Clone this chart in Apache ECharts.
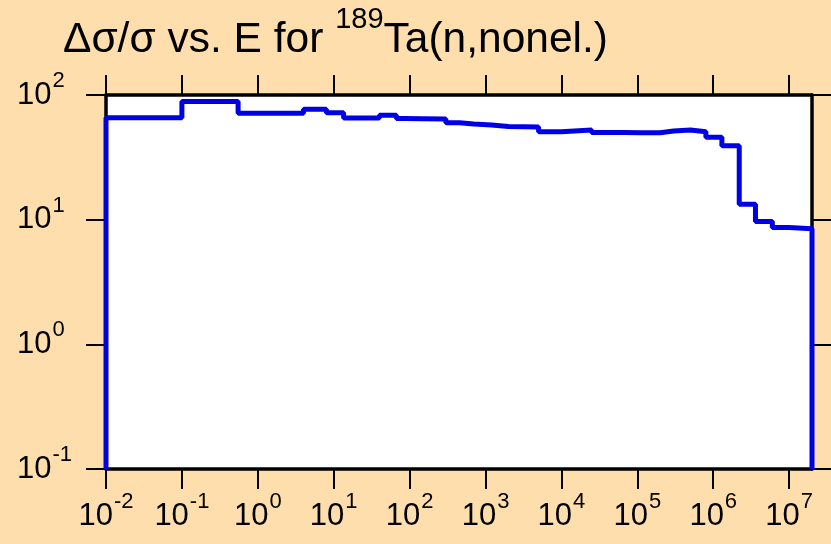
<!DOCTYPE html>
<html><head><meta charset="utf-8">
<script src="https://cdn.jsdelivr.net/npm/echarts@6/dist/echarts.min.js"></script>
<style>html,body{margin:0;padding:0;background:#FFDEAD;} #c{width:831px;height:544px;}</style>
</head><body><div id="c"></div>
<script>
// ---- data ----
const titleLead = 'Δσ/σ vs. E for ';
const titleSup = '189';
const titleTail = 'Ta(n,nonel.)';
// energy bin boundaries (eV)
const binEdges = [0.01, 0.1, 0.55, 4, 8, 13.5, 40, 67, 86, 150, 300, 455, 700, 1200, 2000, 3200,
  5000, 10000, 25000, 67000, 110000, 2e5, 3e5, 5e5, 8e5, 1.3e6, 2.2e6, 3.6e6, 6e6, 1e7, 2e7];
// relative uncertainty per bin (%)
const binValues = [65.8, 88.7, 71.3, 76.8, 72.2, 65.4, 68.8, 64.8, 64.6, 64.3, 60, 58.5, 57.5, 56,
  55.7, 55.4, 50.8, 52.4, 50, 49.9, 49.8, 51.4, 52.4, 50.8, 45.8, 39.2, 13.3, 9.66, 8.65, 8.44];
const xTickValues = [0.01, 0.1, 1, 10, 100, 1e3, 1e4, 1e5, 1e6, 1e7];
const yTickValues = [0.1, 1, 10, 100];
const xRange = [0.01, 2e7];
const yRange = [0.1, 100];

// ---- chart ----
const font = '"Liberation Sans", Arial, Helvetica, sans-serif';
const rich = {
  b: {fontSize: 31, fontFamily: font, fontWeight: 'normal', color: '#000'},
  s: {fontSize: 22, fontFamily: font, fontWeight: 'normal', color: '#000', padding: [0, 0, 28, 1]}
};
function expLabel(v) {
  const e = Math.round(Math.log10(v));
  return '{b|10}{s|' + e + '}';
}
const pts = [[binEdges[0], yRange[0]]];
binValues.forEach((v, i) => { pts.push([binEdges[i], v]); pts.push([binEdges[i + 1], v]); });
pts.push([binEdges[binEdges.length - 1], yRange[0]]);

const lineBlack = {color: '#000', width: 3.5};
const tickStyle = {color: '#000', width: 2};
function xAxisDef(pos, showLabel) {
  return {
    type: 'log', logBase: 10, min: xRange[0], max: xRange[1], position: pos,
    axisLine: {show: true, onZero: false, lineStyle: lineBlack},
    axisTick: {show: true, inside: false, length: 20, lineStyle: tickStyle, customValues: xTickValues},
    axisLabel: {show: showLabel, margin: 22, customValues: xTickValues, formatter: expLabel, rich: rich},
    splitLine: {show: false}, minorTick: {show: false}, minorSplitLine: {show: false}
  };
}
function yAxisDef(pos, showLabel) {
  return {
    type: 'log', logBase: 10, min: yRange[0], max: yRange[1], position: pos,
    axisLine: {show: true, onZero: false, lineStyle: lineBlack},
    axisTick: {show: true, inside: false, length: 20, lineStyle: tickStyle, customValues: yTickValues},
    axisLabel: {show: showLabel, margin: 89, align: 'left', customValues: yTickValues, formatter: expLabel, rich: rich},
    splitLine: {show: false}, minorTick: {show: false}, minorSplitLine: {show: false}
  };
}
const chart = echarts.init(document.getElementById('c'), null, {renderer: 'canvas'});
chart.setOption({
  animation: false,
  backgroundColor: '#FFDEAD',
  title: {
    text: '{m|' + titleLead + '}{s|' + titleSup + '}{m|' + titleTail + '}',
    left: 63, top: 5, padding: 0,
    textStyle: {
      fontWeight: 'normal',
      rich: {
        m: {fontSize: 42.5, fontFamily: font, fontWeight: 'normal', color: '#000'},
        s: {fontSize: 29, fontFamily: font, fontWeight: 'normal', color: '#000', padding: [0, 0, 42, 0]}
      }
    }
  },
  grid: {left: 106, top: 95, width: 706, height: 374, show: true, backgroundColor: '#fff', borderWidth: 0, containLabel: false},
  xAxis: [xAxisDef('bottom', true), xAxisDef('top', false)],
  yAxis: [yAxisDef('left', true), yAxisDef('right', false)],
  series: [{
    type: 'line', data: pts, xAxisIndex: 0, yAxisIndex: 0,
    symbol: 'none', showSymbol: false, clip: false,
    lineStyle: {color: '#0000e6', width: 5}
  }]
});
</script>
</body></html>
